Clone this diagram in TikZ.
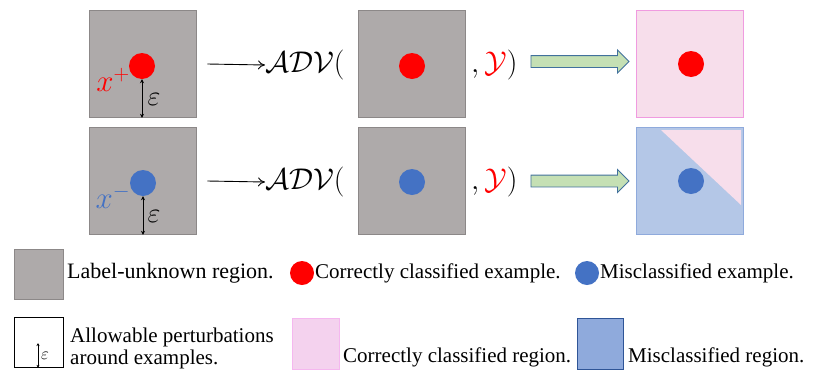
\RequirePackage{fix-cm}
\documentclass[tikz,border=0pt]{standalone}
\usepackage{fontspec}
\setmainfont{Liberation Serif}
\usetikzlibrary{arrows.meta,shapes.arrows}
\definecolor{regiongray}{HTML}{AEAAAA}
\definecolor{edgegray}{HTML}{8C8888}
\definecolor{dotred}{HTML}{FF0000}
\definecolor{dotblue}{HTML}{4472C4}
\definecolor{corrfill}{HTML}{F7DEEB}
\definecolor{corredge}{HTML}{F09BE0}
\definecolor{misfill}{HTML}{B4C7E7}
\definecolor{misedge}{HTML}{8FAADC}
\definecolor{legpink}{HTML}{F4D2EE}
\definecolor{legpinkedge}{HTML}{F5B7EF}
\definecolor{legblue}{HTML}{8FAADC}
\definecolor{legblueedge}{HTML}{2F5597}
\definecolor{arrgreen}{HTML}{C5E0B4}
\definecolor{arredge}{HTML}{41719C}
\tikzset{
  region/.style={draw=edgegray, fill=regiongray, line width=0.7pt, minimum size=107pt, inner sep=0pt},
  corrregion/.style={region, draw=corredge, fill=corrfill},
  misregion/.style={region, draw=misedge, fill=misfill},
  legbox/.style={minimum width=49pt, minimum height=50pt, inner sep=0pt, line width=0.7pt},
  dot/.style={circle, inner sep=0pt, minimum size=26pt},
  reddot/.style={dot, fill=dotred},
  bluedot/.style={dot, fill=dotblue},
  legtext/.style={anchor=west, inner sep=0pt, align=left, font=\fontsize{21}{22}\selectfont},
  mathtext/.style={anchor=west, inner sep=0pt, font=\fontsize{30}{32}\selectfont},
  xlabel/.style={inner sep=0pt, font=\fontsize{31}{31}\selectfont},
  epslabel/.style={inner sep=0pt, font=\fontsize{28}{28}\selectfont},
  epsarrow/.style={{Stealth[length=4pt,width=4pt]}-{Stealth[length=4pt,width=4pt]}, line width=1pt},
  blockarrow/.style={single arrow, draw=arredge, fill=arrgreen, line width=0.9pt,
    minimum height=98pt, minimum width=22pt, inner sep=5.5pt,
    single arrow head extend=5.5pt, single arrow tip angle=90},
}
\begin{document}
\begin{tikzpicture}[x=1pt,y=-1pt]
\useasboundingbox (0,0) rectangle (830,389);
% top row: correctly classified example x+
\node[region] (in1) at (142.5,64) {};
\node[reddot] (dot1) at (142,66) {};
\node[xlabel, text=dotred] (xplus) at (113,80) {$x^{+}$};
\draw[epsarrow] (dot1.south) -- (dot1.south |- in1.south);
\node[epslabel] (eps1) at (154,99) {$\varepsilon$};
\coordinate (start1) at ([xshift=11pt]in1.east);
\node[mathtext] (adv1) at (265,65) {$\mathcal{ADV}($};
\draw[-{To[length=7pt,width=9pt]}, line width=0.9pt] (start1) -- (adv1.west);
\node[region] (mid1) at (411.5,64) {};
\node[reddot] (mdot1) at (412,66) {};
\node[mathtext] (lab1) at (471,65) {$,{\color{dotred}\mathcal{Y}})$};
\node[blockarrow] (barr1) at (577,61.5) {};
\node[corrregion] (out1) at (689.5,63.5) {};
\node[reddot] (odot1) at (691,64) {};
% bottom row: misclassified example x-
\node[region] (in2) at (142.5,181) {};
\node[bluedot] (dot2) at (143,183) {};
\node[xlabel, text=dotblue] (xminus) at (113,197) {$x^{-}$};
\draw[epsarrow] (dot2.south) -- (dot2.south |- in2.south);
\node[epslabel] (eps2) at (154,216) {$\varepsilon$};
\coordinate (start2) at ([xshift=11pt]in2.east);
\node[mathtext] (adv2) at (265,182) {$\mathcal{ADV}($};
\draw[-{To[length=7pt,width=9pt]}, line width=0.9pt] (start2) -- (adv2.west);
\node[region] (mid2) at (411.5,181) {};
\node[bluedot] (mdot2) at (412,182) {};
\node[mathtext] (lab2) at (471,182) {$,{\color{dotred}\mathcal{Y}})$};
\node[blockarrow] (barr2) at (577,181) {};
\node[misregion] (out2) at (689.5,180.5) {};
\fill[corrfill] (661,130) -- (741,130) -- (741,205) -- cycle;
\node[bluedot] (odot2) at (691,181) {};
% legend
\node[legbox, draw=edgegray, fill=regiongray] (kgray) at (38.5,274) {};
\node[legtext, font=\fontsize{22}{22}\selectfont] (tgray) at (67,273) {Label-unknown region.};
\node[dot, minimum size=24pt, fill=dotred] (kred) at (302,273) {};
\node[legtext] (tred) at (315,273) {Correctly classified example.};
\node[dot, minimum size=24pt, fill=dotblue] (kblue) at (587,273) {};
\node[legtext] (tblue) at (600,273) {Misclassified example.};
\node[legbox, draw=black, fill=white] (keps) at (38.5,342.5) {};
\coordinate (epstop) at (38,343);
\draw[{Stealth[length=3pt,width=3pt]}-{Stealth[length=3pt,width=3pt]}, line width=0.6pt] (epstop) -- (epstop |- keps.south);
\node[inner sep=0pt, font=\fontsize{17}{17}\selectfont] (epsk) at (45,356) {$\varepsilon$};
\node[legtext] (teps) at (70,348) {Allowable perturbations\\around examples.};
\node[legbox, draw=legpinkedge, fill=legpink, minimum width=47pt, minimum height=51pt] (kpink) at (315.5,343.5) {};
\node[legtext] (tpink) at (343,357) {Correctly classified region.};
\node[legbox, draw=legblueedge, fill=legblue, minimum width=46pt, minimum height=51pt] (kmis) at (600,343.5) {};
\node[legtext] (tmis) at (628,357) {Misclassified region.};
\end{tikzpicture}
\end{document}
